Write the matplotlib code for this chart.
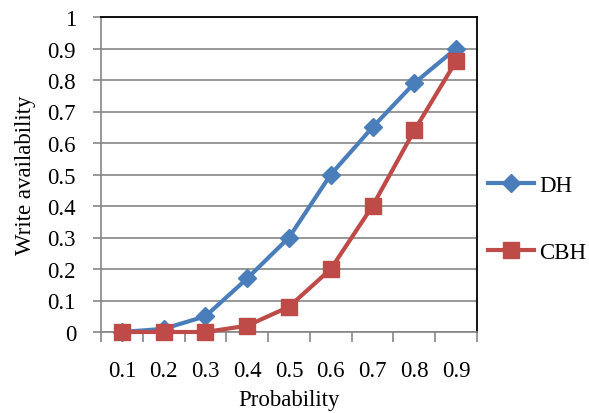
import numpy as np
import matplotlib.pyplot as plt

# Dữ liệu
categories = ['0.1', '0.2', '0.3', '0.4', '0.5', '0.6', '0.7', '0.8', '0.9']
dh = [0.0, 0.01, 0.05, 0.17, 0.30, 0.50, 0.65, 0.79, 0.90]
cbh = [0.0, 0.0, 0.0, 0.02, 0.08, 0.20, 0.40, 0.64, 0.86]
yticks = [0, 0.1, 0.2, 0.3, 0.4, 0.5, 0.6, 0.7, 0.8, 0.9, 1]

plt.rcParams['font.family'] = ['Liberation Serif', 'DejaVu Serif']

fig = plt.figure(figsize=(5.89, 4.14), dpi=100)
ax = fig.add_axes([101 / 589, 1 - 333 / 414, (477 - 101) / 589, (333 - 18) / 414])

x = np.arange(len(categories))
ax.plot(x, dh, color='#4A7EBB', lw=3, marker='D', ms=9, label='DH', clip_on=False, zorder=3)
ax.plot(x, cbh, color='#BE4B48', lw=3, marker='s', ms=11, label='CBH', clip_on=False, zorder=4)

ax.set_xlim(-0.5, len(categories) - 0.5)
ax.set_ylim(0, 1)
ax.set_yticks(yticks)
ax.set_yticklabels([f'{v:g}' for v in yticks], fontsize=16.5)
ax.yaxis.grid(True, color='#868686', lw=1.2)
ax.set_axisbelow(True)

# x: vạch chia ở ranh giới, nhãn ở giữa
ax.set_xticks(np.arange(-0.5, len(categories)), minor=False)
ax.set_xticklabels([])
ax.set_xticks(x, minor=True)
ax.set_xticklabels(categories, minor=True, fontsize=16.5)
ax.tick_params(axis='x', which='major', length=7, color='#868686', width=1.2)
ax.tick_params(axis='x', which='minor', length=0, pad=20)
ax.tick_params(axis='y', length=6, color='#868686', width=1.2, pad=12)

ax.spines['left'].set_color('#868686')
ax.spines['bottom'].set_color('#868686')
ax.spines['left'].set_linewidth(1.2)
ax.spines['bottom'].set_linewidth(1.2)
ax.spines['top'].set_color('black')
ax.spines['right'].set_color('black')
ax.spines['top'].set_linewidth(1.3)
ax.spines['right'].set_linewidth(1.3)

ax.set_xlabel('Probability', fontsize=16.5, labelpad=6)
ax.set_ylabel('Write availability', fontsize=16.5, labelpad=8)

ax.legend(loc='center left', bbox_to_anchor=(1.0, 0.36), frameon=False,
          fontsize=16.5, handlelength=2.0, labelspacing=2.0, handletextpad=0.2,
          borderaxespad=0.3, borderpad=0.2)

fig.savefig('out.png', dpi=100)
